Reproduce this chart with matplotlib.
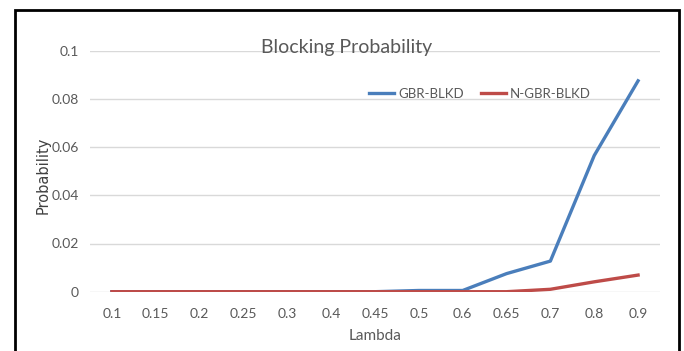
import matplotlib
matplotlib.use("Agg")
import matplotlib.pyplot as plt
from matplotlib.patches import Rectangle

lambdas = ["0.1", "0.15", "0.2", "0.25", "0.3", "0.4", "0.45", "0.5", "0.6", "0.65", "0.7", "0.8", "0.9"]
gbr_blkd = [0, 0, 0, 0, 0, 0, 0, 0.0005, 0.0005, 0.0075, 0.0127, 0.0565, 0.0875]
ngbr_blkd = [0, 0, 0, 0, 0, 0, 0, 0, 0, 0, 0.001, 0.0041, 0.0069]
y_ticks = [0, 0.02, 0.04, 0.06, 0.08, 0.1]
y_tick_labels = ["0", "0.02", "0.04", "0.06", "0.08", "0.1"]

plt.rcParams["font.family"] = ["Lato", "DejaVu Sans"]

W, H = 684, 351
fig = plt.figure(figsize=(W / 100, H / 100), dpi=100)
fig.patch.set_facecolor("white")

# outer chart frame
fig.patches.append(Rectangle((15 / W, -0.05), (679 - 15) / W, (H - 10) / H + 0.05,
                             transform=fig.transFigure, fill=False,
                             edgecolor="black", linewidth=2.0))

left, right = 90 / W, 660 / W
top, bottom = 1 - 50.7 / H, 1 - 291.7 / H
ax = fig.add_axes([left, bottom, right - left, top - bottom])

x = list(range(len(lambdas)))
ax.plot(x, gbr_blkd, color="#4A7EBB", lw=2.4, label="GBR-BLKD", solid_joinstyle="round", zorder=3)
ax.plot(x, ngbr_blkd, color="#BE4B48", lw=2.4, label="N-GBR-BLKD", solid_joinstyle="round", zorder=3)

ax.set_xlim(-0.5, len(lambdas) - 0.5)
ax.set_ylim(0, 0.1)
ax.set_xticks(x)
ax.set_xticklabels(lambdas)
ax.set_yticks(y_ticks)
ax.set_yticklabels(y_tick_labels)
ax.grid(axis="y", color="#D9D9D9", lw=1.0, zorder=0)
ax.set_axisbelow(True)
for s in ax.spines.values():
    s.set_visible(False)
ax.tick_params(axis="both", length=0, colors="#595959", labelsize=10)
ax.tick_params(axis="x", pad=12)
ax.tick_params(axis="y", pad=8)

ax.set_xlabel("Lambda", color="#595959", fontsize=11, labelpad=6)
fig.text(43 / W, 1 - 175 / H, "Probability", rotation=90, ha="center", va="center",
         color="#404040", fontsize=10.5, family="DejaVu Sans")

fig.text(347 / W, 1 - 47 / H, "Blocking Probability", ha="center", va="center",
         color="#595959", fontsize=14)

leg = ax.legend(loc="center", bbox_to_anchor=((480 - 90) / 570, (291.7 - 94) / 241),
                ncol=2, frameon=False, fontsize=9.5, handlelength=1.9,
                handletextpad=0.3, columnspacing=1.3, labelcolor="#595959")

fig.savefig("out.png", dpi=100, facecolor="white")
